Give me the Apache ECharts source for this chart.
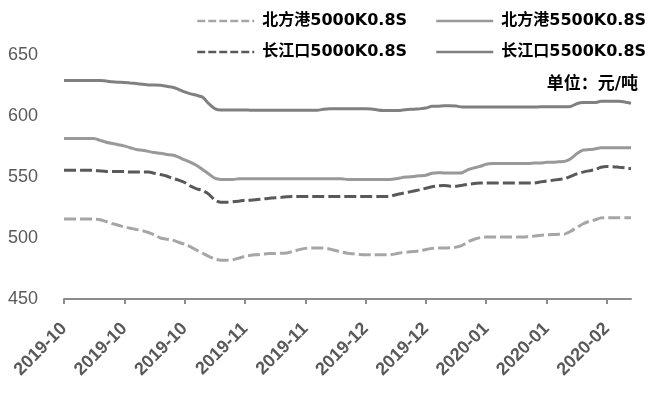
<!DOCTYPE html>
<html>
<head>
<meta charset="utf-8">
<script src="https://cdn.jsdelivr.net/npm/echarts@6/dist/echarts.min.js"></script>
<style>html,body{margin:0;padding:0;background:#fff}#c{width:650px;height:393px}</style>
</head>
<body>
<div id="c"></div>
<script>
const dates = [
'2019-10-01','2019-10-02','2019-10-03','2019-10-04','2019-10-07','2019-10-08','2019-10-09','2019-10-10','2019-10-11','2019-10-14',
'2019-10-15','2019-10-16','2019-10-17','2019-10-18','2019-10-21','2019-10-22','2019-10-23','2019-10-24','2019-10-25','2019-10-28',
'2019-10-29','2019-10-30','2019-10-31','2019-11-01','2019-11-04','2019-11-05','2019-11-06','2019-11-07','2019-11-08','2019-11-11',
'2019-11-12','2019-11-13','2019-11-14','2019-11-15','2019-11-18','2019-11-19','2019-11-20','2019-11-21','2019-11-22','2019-11-25',
'2019-11-26','2019-11-27','2019-11-28','2019-11-29','2019-12-02','2019-12-03','2019-12-04','2019-12-05','2019-12-06','2019-12-09',
'2019-12-10','2019-12-11','2019-12-12','2019-12-13','2019-12-16','2019-12-17','2019-12-18','2019-12-19','2019-12-20','2019-12-23',
'2019-12-24','2019-12-25','2019-12-26','2019-12-27','2019-12-30','2019-12-31','2020-01-01','2020-01-02','2020-01-03','2020-01-06',
'2020-01-07','2020-01-08','2020-01-09','2020-01-10','2020-01-13','2020-01-14','2020-01-15','2020-01-16','2020-01-17','2020-01-20',
'2020-01-21','2020-01-22','2020-01-23','2020-01-24','2020-01-27','2020-01-28','2020-01-29','2020-01-30','2020-01-31','2020-02-03',
'2020-02-04','2020-02-05','2020-02-06','2020-02-07','2020-02-10'
];

const bfg5000 = [
515.5,515.5,515.5,515.5,515.5,515.5,
515,513.5,511.8,510.5,509,508,507,506,504.5,502.5,
500,499,498.3,496.5,494.8,492.7,490,487.5,485,482.8,
481.8,481.8,482.2,483.5,485,
485.8,486.3,486.8,487.2,487.3,487.5,487.7,489,490.5,491.5,491.8,491.8,491.8,491,489.8,488.5,
487.5,487,486.5,486.3,486.3,486.3,486.3,486.3,487,488,488.5,489,489.5,490.5,491.5,491.8,
491.8,492,492.5,494,497,499,500.3,500.8,500.8,500.8,500.8,500.8,500.8,500.8,501.2,501.6,
502.2,502.5,502.8,503,503.2,505.5,508.5,511.5,513.5,514.8,516.5,516.7,516.7,516.7,516.7,516.7
];

const cjk5000 = [
555.5,555.5,555.5,555.5,555.5,555.5,
555,554.5,554.5,554.5,554.5,554,554,554,554,553,
552,550.8,549,547.5,545.5,542.5,540.3,539,536,531,
529.3,529.3,529.8,530.2,531,
531,531.5,532,532.5,533,533.3,533.8,534,
534,534,534,534,534,534,534,534,
534,534,534,534,534,534,534,534,
535.5,536.5,537.5,538.5,539.5,540.8,542,542.8,
543,542.5,542.5,543.2,544,544.6,
545,545,545,545,545,545,545,545,545,545,
546,546.8,547.3,548,548.5,550.5,552.5,554,555,556,558,558.7,558.5,558,557.5,556.8
];

const bfg5500 = [
581.5,581.5,581.5,581.5,581.5,581.5,
580,578.5,577.5,576.5,575.5,574,572.5,572,571,570,
569.5,568.5,568,566.3,564,562,559.5,556,552.5,549,
548,548,548,548.5,548.5,
548.5,548.5,548.5,548.5,548.5,548.5,548.5,548.5,548.5,548.5,548.5,548.5,548.5,548.5,548.5,548.5,
548,548,548,548,548,548,548,548,
548.5,549.5,550,550.5,551,551.5,553,553.5,
553.3,553.3,553.3,553.5,
556,557.5,558.7,560.5,
561,561,561,561,561,561,561,561.5,
561.5,562,562,562.5,562.8,
565,569,572,572.5,573,574,
574,574,574,574,574
];

const cjk5500 = [
629,629,629,629,629,629,
629,628.6,628,627.7,627.5,627,626.6,626,625.5,625.5,
625.2,624.4,623.6,621.9,619.7,618.1,617,615.3,610.2,606.1,
605,605,605,605,605,
604.7,604.7,604.7,604.7,604.7,604.7,604.7,604.7,604.7,604.7,604.7,604.7,
605.5,606,606,606,
606,606,606,606,605.8,
605,604.6,604.6,604.6,604.8,
605.3,605.6,606,606.5,608,608,
608.5,608.5,608.2,
607.4,607.4,607.4,607.4,607.4,607.4,607.4,607.4,607.4,607.4,607.4,607.4,607.4,
607.5,607.5,607.5,607.5,607.5,607.8,
610,611,611,611,
612,612,612,612,
611.5,610.5
];

const seriesNames = ['北方港5000K0.8S','长江口5000K0.8S','北方港5500K0.8S','长江口5500K0.8S'];
const unitText = '单位：元/吨';

const legendFont = {fontFamily:'"DejaVu Sans","Noto Sans CJK SC",sans-serif', fontWeight:'bold', fontSize:16, color:'#000', padding:[0,0,0,3]};
function lg(name, left, top, color, type){
  return {data:[name], left:left, top:top, itemWidth:57, itemHeight:14, textStyle:legendFont,
    itemStyle:{opacity:0, borderWidth:0},
    lineStyle:{color:color, width:2.5, type:type}, selectedMode:false};
}

const chart = echarts.init(document.getElementById('c'), null, {renderer:'canvas'});
chart.setOption({
  animation:false,
  backgroundColor:'#fff',
  grid:{left:64, right:19, top:55, bottom:94},
  legend:[
    lg(seriesNames[0],191,8,'#a6a6a6',[8,3]),
    lg(seriesNames[1],191,39,'#595959',[8,3]),
    lg(seriesNames[2],430,8,'#999999','solid'),
    lg(seriesNames[3],430,39,'#808080','solid')
  ],
  graphic:[{type:'text', right:12, top:76, style:{text:unitText, fill:'#000',
    font:'bold 17px "DejaVu Sans","Noto Sans CJK SC",sans-serif'}}],
  xAxis:{type:'category', data:dates, boundaryGap:false,
    axisLine:{lineStyle:{color:'#8c8c8c', width:2}},
    axisTick:{interval:9, length:5, lineStyle:{color:'#8c8c8c', width:2}},
    axisLabel:{interval:9, rotate:45, margin:27, color:'#595959', fontSize:18, fontWeight:'bold',
      fontFamily:'"Liberation Sans",sans-serif', formatter:v=>v.slice(0,7)}},
  yAxis:{type:'value', min:450, max:650, interval:50,
    splitLine:{show:false}, axisLine:{show:false}, axisTick:{show:false},
    axisLabel:{margin:26, color:'#595959', fontSize:18, fontFamily:'"Liberation Sans",sans-serif'}},
  series:[
    {name:seriesNames[0], type:'line', data:bfg5000, symbol:'none', smooth:0.15,
      lineStyle:{color:'#a6a6a6', width:3, type:[12,4]}, itemStyle:{color:'#a6a6a6'}},
    {name:seriesNames[1], type:'line', data:cjk5000, symbol:'none', smooth:0.15,
      lineStyle:{color:'#595959', width:3, type:[12,4]}, itemStyle:{color:'#595959'}},
    {name:seriesNames[2], type:'line', data:bfg5500, symbol:'none', smooth:0.15,
      lineStyle:{color:'#999999', width:3}, itemStyle:{color:'#999999'}},
    {name:seriesNames[3], type:'line', data:cjk5500, symbol:'none', smooth:0.15,
      lineStyle:{color:'#808080', width:3}, itemStyle:{color:'#808080'}}
  ]
});
</script>
</body>
</html>
